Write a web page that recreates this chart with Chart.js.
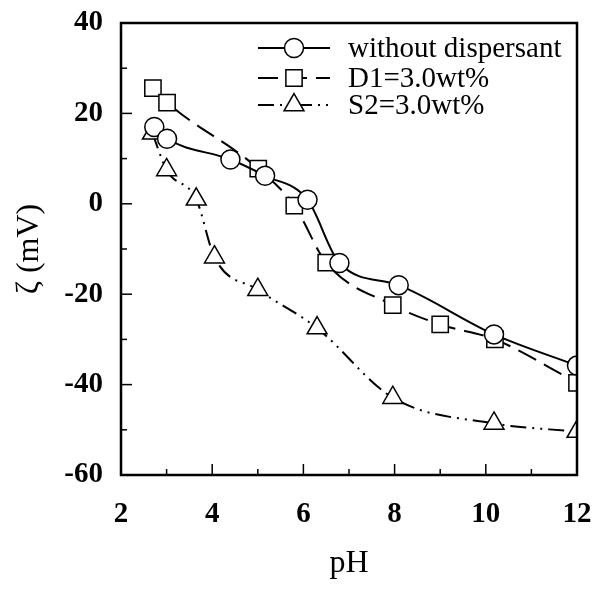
<!DOCTYPE html>
<html lang="en">
<head>
  <meta charset="UTF-8">
  <title>Zeta potential vs pH</title>
  <script src="https://cdn.jsdelivr.net/npm/chart.js"></script>
  <style>
    html, body {
      margin: 0;
      padding: 0;
      background: #fff;
    }
    #wrap {
      width: 599px;
      height: 590px;
    }
  </style>
</head>
<body>
  <div id="wrap">
    <canvas id="zetaChart" width="599" height="590"></canvas>
  </div>

  <script>
    // values
    var phCircle = [2.73, 3.01, 4.4, 5.16, 6.09, 6.79, 8.09, 10.18, 12];
    var zetaCircle = [17, 14.4, 9.8, 6.2, 0.9, -13.1, -18, -28.9, -35.8];

    var phSquare = [2.7, 3.01, 5.01, 5.8, 6.5, 7.96, 9.0, 10.2, 12];
    var zetaSquare = [25.6, 22.4, 7.8, -0.4, -13, -22.4, -26.7, -30, -39.6];

    var phTriangle = [2.69, 3.0, 3.65, 4.05, 5.0, 6.3, 7.96, 10.18, 12];
    var zetaTriangle = [15.6, 7.5, 1.0, -11.8, -19, -27.5, -42.9, -48.6, -50.4];

    var seriesNames = ['without dispersant', 'D1=3.0wt%', 'S2=3.0wt%'];

    var serif = '"Liberation Serif", "DejaVu Serif", serif';

    function toPoints(xs, ys) {
      return xs.map(function (x, i) { return { x: x, y: ys[i] }; });
    }

    function drawMarker(ctx, style, r, x, y) {
      ctx.beginPath();
      if (style === 'circle') {
        ctx.arc(x, y, r, 0, Math.PI * 2);
      } else if (style === 'rect') {
        var s = r * Math.SQRT1_2;
        ctx.rect(x - s, y - s, s * 2, s * 2);
      } else {
        var a = 0;
        ctx.moveTo(x + Math.sin(a) * r, y - Math.cos(a) * r);
        a += Math.PI * 2 / 3;
        ctx.lineTo(x + Math.sin(a) * r, y - Math.cos(a) * r);
        a += Math.PI * 2 / 3;
        ctx.lineTo(x + Math.sin(a) * r, y - Math.cos(a) * r);
        ctx.closePath();
      }
      ctx.fillStyle = '#fff';
      ctx.fill();
      ctx.setLineDash([]);
      ctx.lineWidth = 1.5;
      ctx.strokeStyle = '#000';
      ctx.stroke();
    }

    // frame, inward ticks and the legend in the top right corner
    var framePlugin = {
      id: 'frame',
      afterDraw: function (chart) {
        var ctx = chart.ctx;
        var a = chart.chartArea;
        var xs = chart.scales.x;
        var ys = chart.scales.y;
        ctx.save();
        ctx.strokeStyle = '#000';
        ctx.lineWidth = 2.5;
        ctx.setLineDash([]);
        ctx.strokeRect(a.left, a.top, a.right - a.left, a.bottom - a.top);

        ctx.lineWidth = 1.5;
        for (var v = -60; v <= 40; v += 10) {
          var py = ys.getPixelForValue(v);
          var len = v % 20 === 0 ? 11 : 6;
          ctx.beginPath();
          ctx.moveTo(a.left, py);
          ctx.lineTo(a.left + len, py);
          ctx.stroke();
        }
        for (var p = 2; p <= 12; p += 1) {
          var px = xs.getPixelForValue(p);
          var l = p % 2 === 0 ? 11 : 6;
          ctx.beginPath();
          ctx.moveTo(px, a.bottom);
          ctx.lineTo(px, a.bottom - l);
          ctx.stroke();
        }

        // legend
        var rowY = [48, 78, 105];
        chart.data.datasets.forEach(function (ds, i) {
          var y = rowY[i];
          ctx.beginPath();
          ctx.setLineDash(ds.borderDash || []);
          ctx.lineWidth = ds.borderWidth;
          ctx.moveTo(258, y);
          ctx.lineTo(330, y);
          ctx.stroke();
          drawMarker(ctx, ds.pointStyle, ds.pointRadius, 294, y);
          ctx.fillStyle = '#000';
          ctx.font = '29px ' + serif;
          ctx.textBaseline = 'middle';
          ctx.textAlign = 'left';
          ctx.fillText(ds.label, 348, y + 1);
        });
        ctx.restore();
      }
    };

    var ctx = document.getElementById('zetaChart').getContext('2d');
    var zetaChart = new Chart(ctx, {
      type: 'scatter',
      data: {
        datasets: [
          {
            label: seriesNames[0],
            data: toPoints(phCircle, zetaCircle),
            showLine: true,
            borderColor: '#000',
            borderWidth: 2,
            cubicInterpolationMode: 'monotone',
            pointStyle: 'circle',
            pointRadius: 9.5,
            pointBorderWidth: 1.5,
            pointBackgroundColor: '#fff',
            pointBorderColor: '#000'
          },
          {
            label: seriesNames[1],
            data: toPoints(phSquare, zetaSquare),
            showLine: true,
            borderColor: '#000',
            borderWidth: 2,
            borderDash: [20, 9],
            cubicInterpolationMode: 'monotone',
            pointStyle: 'rect',
            pointRadius: 11.5,
            pointBorderWidth: 1.5,
            pointBackgroundColor: '#fff',
            pointBorderColor: '#000'
          },
          {
            label: seriesNames[2],
            data: toPoints(phTriangle, zetaTriangle),
            showLine: true,
            borderColor: '#000',
            borderWidth: 2,
            borderDash: [16, 6, 2, 6, 2, 6],
            cubicInterpolationMode: 'monotone',
            pointStyle: 'triangle',
            pointRadius: 11.5,
            pointBorderWidth: 1.5,
            pointBackgroundColor: '#fff',
            pointBorderColor: '#000'
          }
        ]
      },
      options: {
        responsive: false,
        animation: false,
        layout: {
          padding: { top: 23, right: 22, left: 0, bottom: 0 }
        },
        plugins: {
          legend: { display: false },
          tooltip: { enabled: false }
        },
        scales: {
          x: {
            type: 'linear',
            min: 2,
            max: 12,
            grid: { display: false, drawTicks: false },
            border: { display: false },
            ticks: {
              stepSize: 2,
              padding: 22,
              color: '#000',
              font: { family: serif, size: 29, weight: 'bold' }
            },
            title: {
              display: true,
              text: 'pH',
              color: '#000',
              font: { family: serif, size: 32 },
              padding: { top: 0, bottom: 7 }
            },
            afterFit: function (s) {
              s.height = 115;
              s.paddingLeft = 0;
              s.paddingRight = 0;
            }
          },
          y: {
            min: -60,
            max: 40,
            grid: { display: false, drawTicks: false },
            border: { display: false },
            ticks: {
              stepSize: 20,
              padding: 18,
              color: '#000',
              font: { family: serif, size: 29, weight: 'bold' }
            },
            title: {
              display: true,
              text: 'ζ (mV)',
              color: '#000',
              font: { family: serif, size: 32 },
              padding: { top: 10, bottom: 0 }
            },
            afterFit: function (s) {
              s.width = 121;
              s.paddingTop = 0;
              s.paddingBottom = 0;
            }
          }
        }
      },
      plugins: [framePlugin]
    });
  </script>
</body>
</html>
